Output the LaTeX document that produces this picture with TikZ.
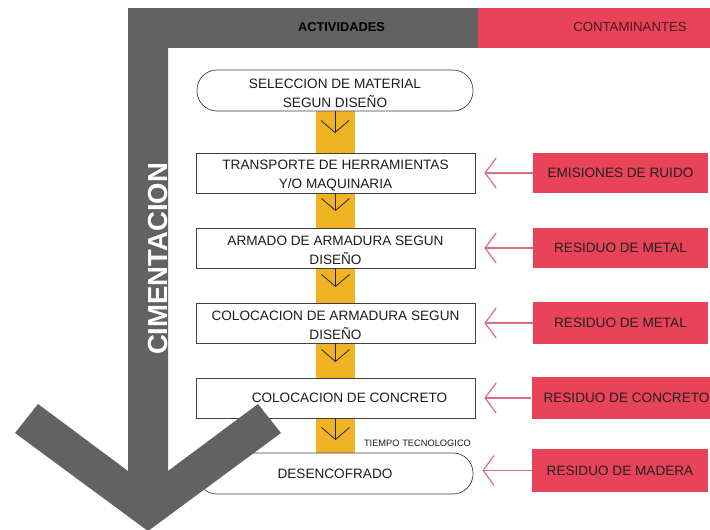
\documentclass[tikz,border=0pt]{standalone}
\usepackage{fontspec}
\setmainfont{Liberation Sans}
\usetikzlibrary{arrows.meta}
\definecolor{framec}{RGB}{98,98,98}
\definecolor{redc}{RGB}{233,67,89}
\definecolor{goldc}{RGB}{239,179,36}
\definecolor{pinkline}{RGB}{214,110,125}
\definecolor{txtc}{RGB}{28,28,28}
\definecolor{contc}{RGB}{70,25,30}
\newcommand\toppad{\rule{0pt}{15pt}}
\begin{document}
\begin{tikzpicture}[x=1pt,y=-1pt,
 box/.style={draw=black!75, line width=0.7pt, fill=white, minimum width=279pt, minimum height=40pt, align=center, font=\fontsize{13.6}{19}\selectfont, text=txtc, inner sep=0pt},
 stadium/.style={box, rounded corners=20pt, minimum width=276pt, minimum height=41pt},
 redbox/.style={fill=redc, minimum width=175pt, minimum height=40pt, font=\fontsize{13.6}{16}\selectfont, text=black!88, inner sep=0pt},
 flow/.style={draw=black!85, line width=0.8pt, -{Straight Barb[length=12pt,width=28pt,line width=0.8pt]}},
 feed/.style={draw=pinkline, line width=1.2pt, shorten >=9pt, -{Straight Barb[length=11pt,width=30pt,line width=1.2pt]}}]
\useasboundingbox (0,0) rectangle (710,530);
\fill[white] (0,0) rectangle (710,530);
% header bars
\fill[framec] (128,8) rectangle (478,48);
\fill[redc] (478,8) rectangle (710,48);
\node[font=\bfseries\fontsize{12.8}{14}\selectfont, text=black] (act) at (341.5,27) {ACTIVIDADES};
\node[font=\fontsize{13.2}{15}\selectfont, text=contc] (cont) at (630,27) {CONTAMINANTES};
% time bar
\fill[goldc] (316,111) rectangle (355,453);
% activity boxes
\node[stadium] (b1) at (335,90.5) {\toppad SELECCION DE MATERIAL\\SEGUN DISEÑO};
\node[box] (b2) at (335.5,173) {\toppad TRANSPORTE DE HERRAMIENTAS\\Y/O MAQUINARIA};
\node[box] (b3) at (335.5,248) {\toppad ARMADO DE ARMADURA SEGUN\\DISEÑO};
\node[box] (b4) at (335.5,323) {\toppad COLOCACION DE ARMADURA SEGUN\\DISEÑO};
\node[box] (b5) at (335.5,398) {\hspace*{28pt}COLOCACION DE CONCRETO};
\node[stadium] (b6) at (335,473.5) {DESENCOFRADO};
% flow arrows
\coordinate (t1) at (335,133);
\coordinate (t2) at (335.5,211);
\coordinate (t3) at (335.5,287);
\coordinate (t4) at (335.5,362);
\coordinate (t5) at (335.5,440);
\draw[flow] (b1.south) -- (t1);
\draw[flow] (b2.south) -- (t2);
\draw[flow] (b3.south) -- (t3);
\draw[flow] (b4.south) -- (t4);
\draw[flow] (b5.south) -- (t5);
\node[font=\fontsize{9.3}{11}\selectfont, text=txtc] (tt) at (417.5,443) {TIEMPO TECNOLOGICO};
% pollutant boxes
\node[redbox] (r1) at (620.5,173) {EMISIONES DE RUIDO};
\node[redbox] (r2) at (620.5,248) {RESIDUO DE METAL};
\node[redbox, minimum height=42pt] (r3) at (620.5,323) {RESIDUO DE METAL};
\node[redbox, minimum height=42pt] (r4) at (620.5,398) {\hspace*{12pt}RESIDUO DE CONCRETO};
\node[redbox, minimum width=176pt, minimum height=43pt] (r5) at (620,470.5) {RESIDUO DE MADERA};
\draw[feed] (r1.west) -- (b2.east);
\draw[feed] (r2.west) -- (b3.east);
\draw[feed] (r3.west) -- (b4.east);
\draw[feed] (r4.west) -- (b5.east);
\draw[feed] (r5.west) -- (r5.west -| b6.east);
% big arrow frame
\fill[framec] (128,8) -- (128,471) -- (38,404) -- (15,433) -- (148,531) -- (281,433) -- (258,404) -- (168,471) -- (168,8) -- cycle;
\node[rotate=90, font=\bfseries\fontsize{27.5}{30}\selectfont, text=white] (cim) at (158.5,259) {CIMENTACION};
\end{tikzpicture}
\end{document}
